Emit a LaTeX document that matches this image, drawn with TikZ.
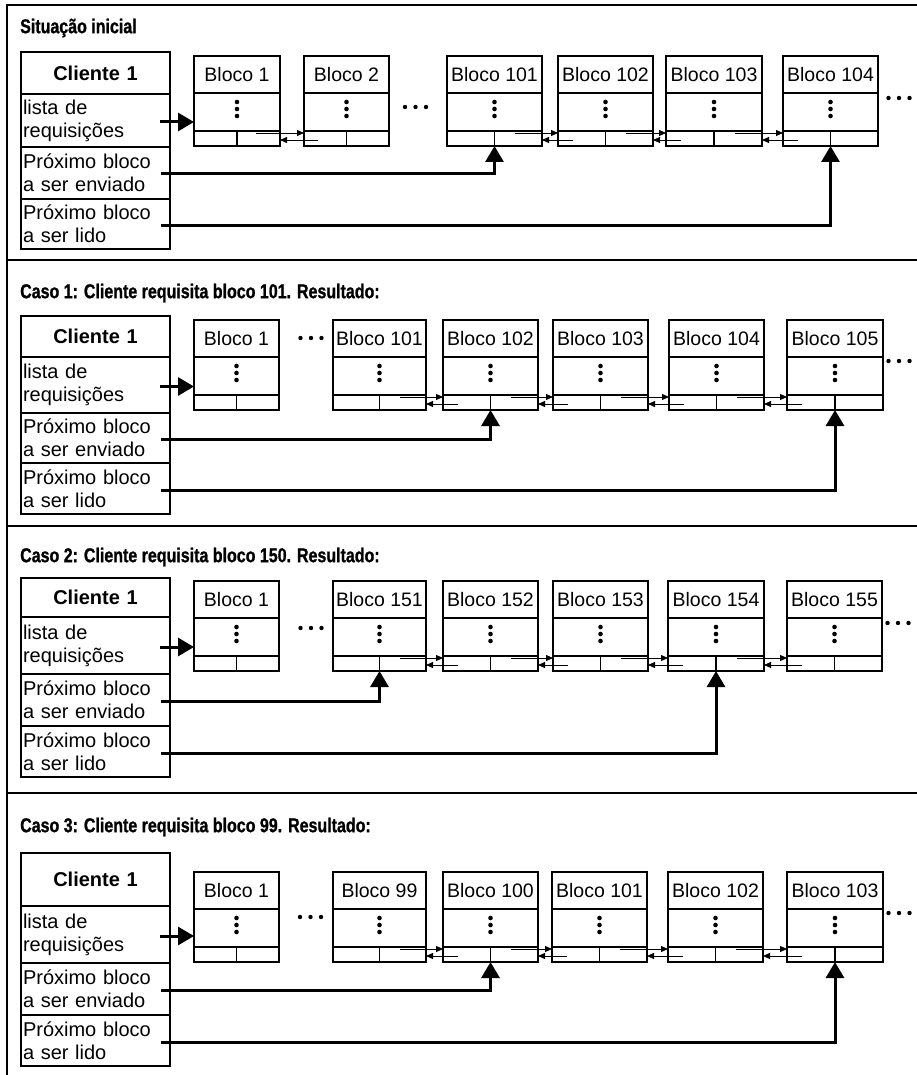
\documentclass[tikz,border=0pt]{standalone}
\usepackage{fontspec}
\setmainfont{Liberation Sans}
\newfontfamily\ttlfont[FakeStretch=0.8,FakeBold=1]{Liberation Sans}
\usetikzlibrary{arrows.meta,calc}

\tikzset{
  frame/.style={line width=2.8pt},
  blkbox/.style={draw, line width=1.1pt, minimum height=90pt, inner sep=0pt, outer sep=0pt},
  cellline/.style={line width=1.1pt},
  blklabel/.style={font=\fontsize{19.5}{22}\selectfont, inner sep=0pt},
  clrow/.style={draw, line width=1.1pt, text width=145pt, inner xsep=2pt, inner ysep=0pt, outer sep=0pt, align=left, anchor=north west, font=\fontsize{20}{23}\selectfont},
  clhead/.style={clrow, align=center, font=\fontsize{20}{23}\selectfont\bfseries},
  ttl/.style={anchor=west, inner sep=0pt, font=\ttlfont\bfseries\fontsize{20}{23}\selectfont},
  bigarrow/.style={line width=3pt, -{Triangle[width=18pt,length=16pt]}},
  smallarrow/.style={line width=0.9pt, -{Triangle[width=6pt,length=7pt]}},
  hdot/.style={fill, circle, inner sep=0pt, minimum size=4.4pt},
  vdot/.style={fill, circle, inner sep=0pt, minimum size=4.6pt},
}

% block: name, x left, x right, y top, label
\newcommand\blk[5]{%
  \pgfmathsetmacro\bw{#3-#2}%
  \pgfmathsetmacro\fsx{0.22*\bw}%
  \pgfmathsetmacro\bsx{0.16*\bw}%
  \node[blkbox, minimum width=\bw, anchor=north west] (#1) at (#2,#4) {};
  \draw[cellline] ([yshift=-37pt]#1.north west) -- ([yshift=-37pt]#1.north east);
  \draw[cellline] ([yshift=15pt]#1.south west) -- ([yshift=15pt]#1.south east);
  \draw[cellline] (#1.south) -- ([yshift=15pt]#1.south);
  \node[blklabel] (#1t) at ([yshift=-19pt]#1.north) {#5};
  \node[vdot] (#1da) at ([yshift=-46pt]#1.north) {};
  \node[vdot] (#1db) at ([yshift=-53pt]#1.north) {};
  \node[vdot] (#1dc) at ([yshift=-60pt]#1.north) {};
  \coordinate (#1fs) at ([xshift=\fsx pt, yshift=13pt]#1.south);
  \coordinate (#1bs) at ([xshift=\bsx pt, yshift=6pt]#1.south west);
}

% link between consecutive blocks
\newcommand\lnk[2]{%
  \draw[smallarrow] (#1fs) -- (#1fs -| #2.west);
  \draw[smallarrow] (#2bs) -- (#2bs -| #1.east);
}

% client box: prefix, y top, row heights
\newcommand\client[6]{%
  \node[clhead, minimum height=#3pt] (#1h) at (21,#2) {Cliente 1};
  \node[clrow, minimum height=#4pt] (#1l) at (#1h.south west) {lista de\\requisições};
  \node[clrow, minimum height=#5pt] (#1e) at (#1l.south west) {Próximo bloco\\a ser enviado};
  \node[clrow, minimum height=#6pt] (#1r) at (#1e.south west) {Próximo bloco\\a ser lido};
}

% horizontal ellipsis: name, x centre, y
\newcommand\hdt[3]{%
  \node[hdot] (#1a) at (#2-10.5,#3) {};
  \node[hdot] (#1b) at (#2,#3) {};
  \node[hdot] (#1c) at (#2+10.5,#3) {};
}

% client arrows: prefix, first block, enviado target, lido target
\newcommand\clarrows[4]{%
  \coordinate (#1ls) at ([xshift=-10pt,yshift=-1.5pt]#1l.east);
  \draw[bigarrow] (#1ls) -- (#1ls -| #2.west);
  \coordinate (#1es) at ([xshift=-9pt,yshift=-1pt]#1e.east);
  \draw[bigarrow] (#1es) -| (#3.south);
  \coordinate (#1rs) at ([xshift=-9pt,yshift=-1.5pt]#1r.east);
  \draw[bigarrow] (#1rs) -| (#4.south);
}

\begin{document}
\begin{tikzpicture}[x=1pt,y=-1pt]
\useasboundingbox (0,0) rectangle (917,1075);

% frame
\draw[frame] (917,5) -- (7,5) -- (7,1075);
\draw[frame] (7,260) -- (917,260);
\draw[frame] (7,526) -- (917,526);
\draw[frame] (7,793) -- (917,793);

% ---------- Panel 1 ----------
\node[ttl] (t1) at (20,28) {Situação inicial};
\client{p1}{52}{42}{53}{52}{50}
\blk{p1b1}{194}{280}{56}{Bloco 1}
\blk{p1b2}{304}{389}{56}{Bloco 2}
\blk{p1b3}{447}{542}{56}{Bloco 101}
\blk{p1b4}{558}{653}{56}{Bloco 102}
\blk{p1b5}{666}{762}{56}{Bloco 103}
\blk{p1b6}{783}{878}{56}{Bloco 104}
\hdt{p1x}{415.5}{107}
\hdt{p1y}{899}{98}
\lnk{p1b1}{p1b2}
\lnk{p1b3}{p1b4}
\lnk{p1b4}{p1b5}
\lnk{p1b5}{p1b6}
\clarrows{p1}{p1b1}{p1b3}{p1b6}

% ---------- Panel 2 ----------
\node[ttl] (t2) at (20,293) {Caso 1: Cliente requisita bloco 101. Resultado:};
\client{p2}{316}{41}{56}{50}{51}
\blk{p2b1}{194}{279}{320}{Bloco 1}
\blk{p2b2}{333}{426}{320}{Bloco 101}
\blk{p2b3}{443}{538}{320}{Bloco 102}
\blk{p2b4}{553}{648}{320}{Bloco 103}
\blk{p2b5}{669}{764}{320}{Bloco 104}
\blk{p2b6}{787}{883}{320}{Bloco 105}
\hdt{p2x}{311}{338}
\hdt{p2y}{899}{361}
\lnk{p2b2}{p2b3}
\lnk{p2b3}{p2b4}
\lnk{p2b4}{p2b5}
\lnk{p2b5}{p2b6}
\clarrows{p2}{p2b1}{p2b3}{p2b6}

% ---------- Panel 3 ----------
\node[ttl] (t3) at (20,557) {Caso 2: Cliente requisita bloco 150. Resultado:};
\client{p3}{578}{39}{57}{52}{51}
\blk{p3b1}{194}{279}{581}{Bloco 1}
\blk{p3b2}{333}{426}{581}{Bloco 151}
\blk{p3b3}{443}{538}{581}{Bloco 152}
\blk{p3b4}{553}{648}{581}{Bloco 153}
\blk{p3b5}{668}{764}{581}{Bloco 154}
\blk{p3b6}{787}{882}{581}{Bloco 155}
\hdt{p3x}{311}{628}
\hdt{p3y}{898}{623}
\lnk{p3b2}{p3b3}
\lnk{p3b3}{p3b4}
\lnk{p3b4}{p3b5}
\lnk{p3b5}{p3b6}
\clarrows{p3}{p3b1}{p3b2}{p3b5}

% ---------- Panel 4 ----------
\node[ttl] (t4) at (20,827) {Caso 3: Cliente requisita bloco 99. Resultado:};
\client{p4}{853}{53}{57}{52}{51}
\blk{p4b1}{194}{279}{872}{Bloco 1}
\blk{p4b2}{333}{426}{872}{Bloco 99}
\blk{p4b3}{443}{538}{872}{Bloco 100}
\blk{p4b4}{552}{647}{872}{Bloco 101}
\blk{p4b5}{668}{763}{872}{Bloco 102}
\blk{p4b6}{787}{883}{872}{Bloco 103}
\hdt{p4x}{310.5}{917}
\hdt{p4y}{899}{913}
\lnk{p4b2}{p4b3}
\lnk{p4b3}{p4b4}
\lnk{p4b4}{p4b5}
\lnk{p4b5}{p4b6}
\clarrows{p4}{p4b1}{p4b3}{p4b6}
\end{tikzpicture}
\end{document}
